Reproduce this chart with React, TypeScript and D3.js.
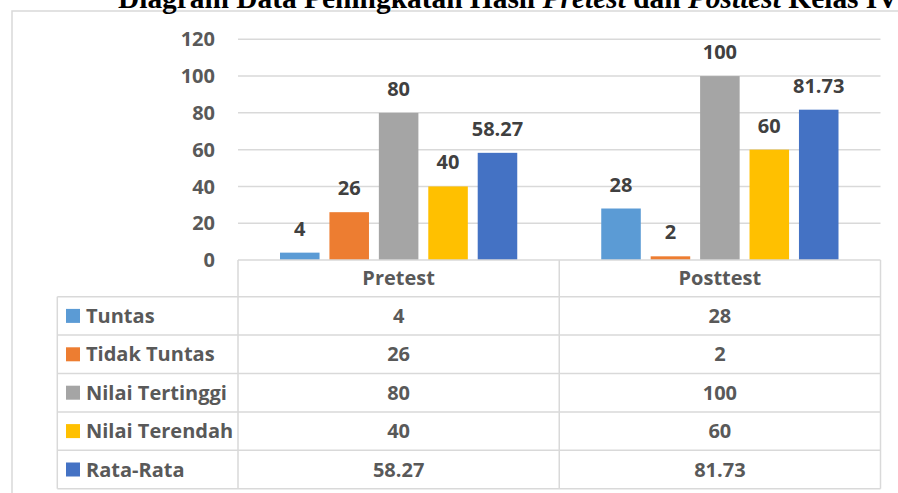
import React from "react";
import * as d3 from "d3";

const categories = ["Pretest", "Posttest"];
const seriesNames = ["Tuntas", "Tidak Tuntas", "Nilai Tertinggi", "Nilai Terendah", "Rata-Rata"];
const seriesColors = ["#5b9bd5", "#ed7d31", "#a5a5a5", "#ffc000", "#4472c4"];
const pretestValues = [4, 26, 80, 40, 58.27];
const posttestValues = [28, 2, 100, 60, 81.73];
const yTicks = [0, 20, 40, 60, 80, 100, 120];

const W = 898;
const H = 493;
const FONT = "'Open Sans', sans-serif";
const FS = 20;

export default function App() {
  const values = [pretestValues, posttestValues];
  const plotLeft = 238;
  const plotRight = 880.5;
  const y = d3.scaleLinear().domain([0, 120]).range([260, 39.3]);
  const x0 = d3.scaleBand<string>().domain(categories).range([plotLeft, plotRight]).padding(0);
  const bw0 = x0.bandwidth();
  const groupPad = 42;
  const x1 = d3
    .scaleBand<string>()
    .domain(seriesNames)
    .range([groupPad, bw0 - groupPad])
    .paddingInner(0.2)
    .paddingOuter(0);

  const tableTop = y(0);
  const headerBottom = 296.7;
  const rowH = 38.4;
  const tableLeft = 57.3;
  const tableBottom = headerBottom + rowH * seriesNames.length;
  const grid = "#d9d9d9";
  const capHalf = FS * 0.714 / 2;

  const fmt = (v: number) => (Number.isInteger(v) ? String(v) : v.toFixed(2));

  return (
    <svg width={W} height={H} style={{ position: "absolute", left: 0, top: 0, background: "#fff" }}>
      <rect x={12} y={11} width={W} height={H} fill="#fff" stroke={grid} strokeWidth={1.5} />
      <text
        x={118}
        y={8}
        fontFamily="'Liberation Serif', 'Times New Roman', serif"
        fontWeight="bold"
        fontSize={29.4}
        fill="#000"
      >
        Diagram Data Peningkatan Hasil <tspan fontStyle="italic">Pretest</tspan> dan{" "}
        <tspan fontStyle="italic">Posttest</tspan> Kelas IV
      </text>

      {/* gridlines */}
      {yTicks
        .filter((t) => t > 0)
        .map((t) => (
          <line key={"g" + t} x1={plotLeft} x2={plotRight} y1={y(t)} y2={y(t)} stroke={grid} strokeWidth={1.5} />
        ))}
      {/* y tick labels */}
      {yTicks.map((t) => (
        <text
          key={"t" + t}
          x={215}
          y={y(t) + capHalf}
          textAnchor="end"
          fontFamily={FONT}
          fontWeight="bold"
          fontSize={FS}
          fill="#595959"
        >
          {t}
        </text>
      ))}

      {/* bars */}
      {categories.map((c, ci) => (
        <g key={c} transform={`translate(${x0(c)},0)`}>
          {seriesNames.map((s, si) => {
            const v = values[ci][si];
            const bx = x1(s)!;
            return (
              <g key={s}>
                <rect x={bx} y={y(v)} width={x1.bandwidth()} height={y(0) - y(v)} fill={seriesColors[si]} />
                <text
                  x={bx + x1.bandwidth() / 2}
                  y={y(v) - 17}
                  textAnchor="middle"
                  fontFamily={FONT}
                  fontWeight="bold"
                  fontSize={FS}
                  fill="#404040"
                >
                  {fmt(v)}
                </text>
              </g>
            );
          })}
        </g>
      ))}

      {/* table */}
      <g stroke={grid} strokeWidth={1.5} fill="none">
        <line x1={plotLeft} x2={plotRight} y1={tableTop} y2={tableTop} />
        <line x1={tableLeft} x2={plotRight} y1={headerBottom} y2={headerBottom} />
        {seriesNames.map((s, i) => (
          <line
            key={"r" + s}
            x1={tableLeft}
            x2={plotRight}
            y1={headerBottom + rowH * (i + 1)}
            y2={headerBottom + rowH * (i + 1)}
          />
        ))}
        <line x1={tableLeft} x2={tableLeft} y1={headerBottom} y2={tableBottom} />
        <line x1={plotLeft} x2={plotLeft} y1={tableTop} y2={tableBottom} />
        {categories.map((c) => (
          <line key={"v" + c} x1={x0(c)! + bw0} x2={x0(c)! + bw0} y1={tableTop} y2={tableBottom} />
        ))}
      </g>
      {categories.map((c) => (
        <text
          key={"h" + c}
          x={x0(c)! + bw0 / 2}
          y={(tableTop + headerBottom) / 2 + capHalf}
          textAnchor="middle"
          fontFamily={FONT}
          fontWeight="bold"
          fontSize={FS}
          fill="#595959"
        >
          {c}
        </text>
      ))}
      {seriesNames.map((s, i) => {
        const cy = headerBottom + rowH * i + rowH / 2;
        return (
          <g key={"row" + s}>
            <rect x={66} y={cy - 7} width={14} height={14} fill={seriesColors[i]} />
            <text x={86} y={cy + capHalf} fontFamily={FONT} fontWeight="bold" fontSize={FS} fill="#595959">
              {s}
            </text>
            {categories.map((c, ci) => (
              <text
                key={c}
                x={x0(c)! + bw0 / 2}
                y={cy + capHalf}
                textAnchor="middle"
                fontFamily={FONT}
                fontWeight="bold"
                fontSize={FS}
                fill="#595959"
              >
                {fmt(values[ci][i])}
              </text>
            ))}
          </g>
        );
      })}
    </svg>
  );
}
